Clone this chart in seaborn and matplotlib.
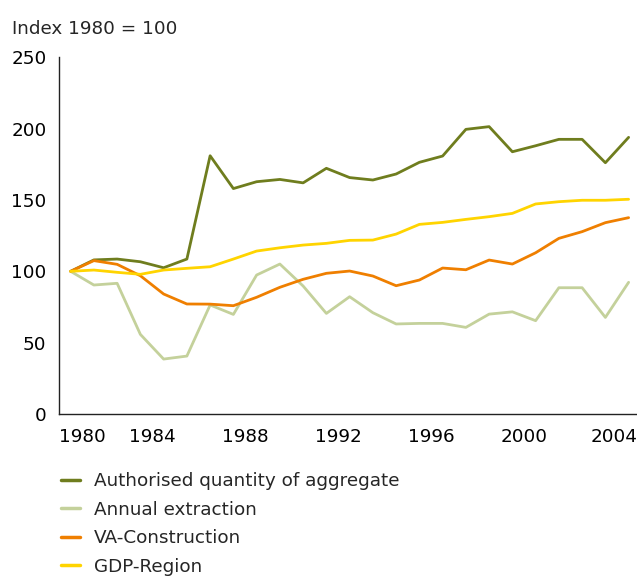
import numpy as np
import pandas as pd
import matplotlib
matplotlib.use("Agg")
import matplotlib.pyplot as plt
import matplotlib.transforms as mtransforms
import seaborn as sns

years = list(range(1980, 2005))
authorised = [100, 108, 108.6, 106.7, 102.5, 108.6, 181, 158, 162.8, 164.4, 162, 172.2, 165.7,
              164, 168.2, 176.4, 180.8, 199.5, 201.4, 183.8, 188, 192.5, 192.5, 176.1, 193.9]
extraction = [100, 90.4, 91.6, 55.8, 38.5, 40.6, 76.4, 69.8, 97.4, 105.1, 89.7, 70.5, 82.2,
              71, 63.1, 63.5, 63.5, 60.7, 70, 71.6, 65.4, 88.5, 88.5, 67.7, 92.3]
va_construction = [100, 107.5, 104.9, 96.9, 84.1, 77.1, 77, 75.9, 81.8, 88.8, 94.4, 98.6, 100.2,
                   96.7, 89.9, 93.9, 102.3, 101.1, 107.9, 105.1, 113, 123.1, 127.8, 134.1, 137.6]
gdp_region = [100, 100.9, 99.3, 97.9, 100.9, 102.1, 103.2, 108.6, 114.2, 116.5, 118.4, 119.6, 121.7,
              121.9, 126.1, 132.9, 134.3, 136.4, 138.3, 140.6, 147.2, 148.8, 149.8, 149.8, 150.5]

series_names = ["Authorised quantity of aggregate", "Annual extraction",
                "VA-Construction", "GDP-Region"]
colors = ["#6f7d1e", "#c4d19b", "#ef7f00", "#ffd400"]
tick_years = [1980, 1984, 1988, 1992, 1996, 2000, 2004]
y_ticks = [0, 50, 100, 150, 200, 250]

df = pd.DataFrame({
    "year": years * 4,
    "value": authorised + extraction + va_construction + gdp_region,
    "series": sum([[n] * len(years) for n in series_names], []),
})

sns.set_style("white")
plt.rcParams["font.family"] = ["DejaVu Sans"]
plt.rcParams["font.sans-serif"] = ["DejaVu Sans"]

FS = 13.2
fig = plt.figure(figsize=(6.37, 5.76), dpi=100)
ax = fig.add_axes([59 / 637, 1 - 414 / 576, 1 - 59 / 637, (414 - 57.3) / 576])

sns.lineplot(data=df, x="year", y="value", hue="series", hue_order=series_names,
             palette=colors, linewidth=2.0, ax=ax, legend=False)

# Category-style axis: ticks sit on the left boundary of each labelled year
ax.set_xlim(1979.5, 1979.5 + 578 / 23.25)
ax.set_xticks([y - 0.5 for y in tick_years])
ax.set_xticklabels([str(y) for y in tick_years])
ax.set_ylim(0, 250)
ax.set_yticks(y_ticks)
ax.set_xlabel("")
ax.set_ylabel("")

for s in ["top", "right"]:
    ax.spines[s].set_visible(False)
for s in ["left", "bottom"]:
    ax.spines[s].set_color("#222222")
    ax.spines[s].set_linewidth(1.0)

ax.tick_params(axis="y", direction="out", length=3, width=1, pad=6,
               labelsize=FS, colors="#222222", labelcolor="black")
ax.tick_params(axis="x", direction="in", length=3, width=1, pad=10,
               labelsize=FS, colors="#222222", labelcolor="black")
xlabels = ax.get_xticklabels()
xlabels[0].set_horizontalalignment("left")
xlabels[-1].set_horizontalalignment("right")
xlabels[-1].set_transform(xlabels[-1].get_transform() +
                          mtransforms.ScaledTranslation(20 / 100, 0, fig.dpi_scale_trans))

fig.text(12 / 637, 1 - 29 / 576, "Index 1980 = 100", fontsize=FS, va="center", ha="left")

handles = [plt.Line2D([0], [0], color=c, lw=2.5) for c in colors]
fig.legend(handles, series_names, loc="upper left",
           bbox_to_anchor=(61 / 637, 1 - 472 / 576), frameon=False,
           fontsize=FS, handlelength=1.05, handletextpad=0.75, labelspacing=0.58,
           borderaxespad=0, borderpad=0)

fig.savefig("out.png", dpi=100)
